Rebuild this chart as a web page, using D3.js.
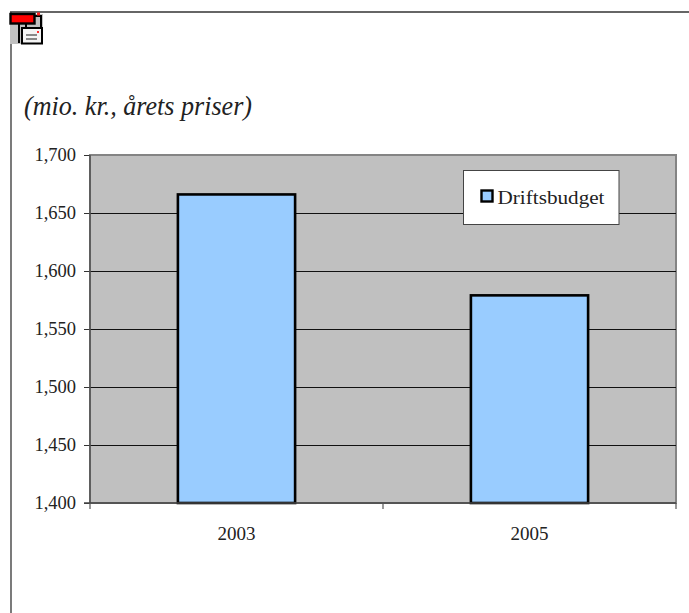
<!DOCTYPE html>
<html>
<head>
<meta charset="utf-8">
<script src="https://cdn.jsdelivr.net/npm/d3@7"></script>
<style>
  html, body { margin: 0; padding: 0; background: #fff; }
  svg { display: block; }
  text { font-family: "Liberation Serif", serif; fill: #222; }
</style>
</head>
<body>
<div id="chart"></div>
<script>
const categories = ["2003", "2005"];
const driftsbudget = [1666, 1579];
const yTickValues = [1400, 1450, 1500, 1550, 1600, 1650, 1700];
const seriesName = "Driftsbudget";
const subtitle = "(mio. kr., årets priser)";

const totalWidth = 689, totalHeight = 613;
const margin = {top: 155, right: 13, bottom: 110, left: 90};
const width = totalWidth - margin.left - margin.right;
const height = totalHeight - margin.top - margin.bottom;

const svg = d3.select("#chart").append("svg")
    .attr("width", totalWidth)
    .attr("height", totalHeight);

// page frame around the embedded chart
svg.append("line").attr("x1", 10).attr("x2", totalWidth).attr("y1", 12).attr("y2", 12)
    .attr("stroke", "#333").attr("stroke-width", 1.3);
svg.append("line").attr("x1", 11).attr("x2", 11).attr("y1", 12).attr("y2", totalHeight)
    .attr("stroke", "#333").attr("stroke-width", 1.3);

drawIcon(svg.append("g").attr("transform", "translate(10,12)"));

svg.append("text")
    .attr("x", 24)
    .attr("y", 115)
    .attr("font-size", 27)
    .attr("font-style", "italic")
    .attr("textLength", 228)
    .attr("lengthAdjust", "spacingAndGlyphs")
    .text(subtitle);

const xScale = d3.scaleBand().domain(categories).range([0, width]).paddingInner(0.6).paddingOuter(0.3);
const yScale = d3.scaleLinear().domain([1400, 1700]).range([height, 0]);

const g = svg.append("g").attr("transform", "translate(" + margin.left + "," + margin.top + ")");

g.append("rect")
    .attr("width", width)
    .attr("height", height)
    .attr("fill", "#c0c0c0")
    .attr("stroke", "#848484")
    .attr("stroke-width", 2);

g.selectAll(".grid")
    .data(yTickValues.filter(d => d > 1400 && d < 1700))
    .enter().append("line")
    .attr("class", "grid")
    .attr("x1", 0)
    .attr("x2", width)
    .attr("y1", d => Math.round(yScale(d)) + 0.5)
    .attr("y2", d => Math.round(yScale(d)) + 0.5)
    .attr("stroke", "#111")
    .attr("stroke-width", 1);

g.selectAll(".bar")
    .data(driftsbudget)
    .enter().append("rect")
    .attr("class", "bar")
    .attr("x", (d, i) => xScale(categories[i]))
    .attr("y", d => yScale(d))
    .attr("width", xScale.bandwidth())
    .attr("height", d => height - yScale(d))
    .attr("fill", "#99ccff")
    .attr("stroke", "#000")
    .attr("stroke-width", 2.6);

const yAxis = d3.axisLeft(yScale).tickValues(yTickValues).tickFormat(d3.format(",")).tickSize(6).tickPadding(8);
const axisY = g.append("g").call(yAxis);
axisY.select(".domain").remove();
axisY.append("line").attr("x1", 0).attr("x2", 0).attr("y1", 0).attr("y2", height)
    .attr("stroke", "#555").attr("stroke-width", 1.6);
axisY.selectAll(".tick line").attr("stroke", "#333");
axisY.selectAll("text").attr("font-size", 18.5).attr("x", -14).style("font-family", '"Liberation Serif", serif').attr("fill", "#222");

const xAxis = d3.axisBottom(xScale).tickSize(0).tickPadding(24);
const axisX = g.append("g").attr("transform", "translate(0," + height + ")").call(xAxis);
axisX.select(".domain").remove();
axisX.selectAll("text").attr("font-size", 19).style("font-family", '"Liberation Serif", serif').attr("fill", "#222");
axisX.append("line").attr("x1", -6).attr("x2", width).attr("y1", 0).attr("y2", 0)
    .attr("stroke", "#444").attr("stroke-width", 1.6);
// ticks between the categories
axisX.selectAll(".sep")
    .data([0, width / 2, width])
    .enter().append("line")
    .attr("class", "sep")
    .attr("x1", d => d).attr("x2", d => d)
    .attr("y1", 0).attr("y2", 6)
    .attr("stroke", "#555").attr("stroke-width", 1.2);

// legend
const legend = svg.append("g").attr("transform", "translate(463.5,170.5)");
legend.append("rect")
    .attr("width", 155.5)
    .attr("height", 54)
    .attr("fill", "#fff")
    .attr("stroke", "#444")
    .attr("stroke-width", 1);
legend.append("rect")
    .attr("x", 18)
    .attr("y", 20)
    .attr("width", 11)
    .attr("height", 11)
    .attr("fill", "#99ccff")
    .attr("stroke", "#000")
    .attr("stroke-width", 2.4);
legend.append("text")
    .attr("x", 34)
    .attr("y", 33)
    .attr("font-size", 19)
    .attr("textLength", 107)
    .attr("lengthAdjust", "spacingAndGlyphs")
    .text(seriesName);

function drawIcon(icon) {
    icon.append("rect").attr("y", 2).attr("width", 33).attr("height", 30).attr("fill", "#c0c0c0");
    // back window
    icon.append("rect").attr("x", 16).attr("y", 4).attr("width", 15).attr("height", 16)
        .attr("fill", "#c0c0c0").attr("stroke", "#000").attr("stroke-width", 2);
    icon.append("rect").attr("x", 8).attr("y", 11).attr("width", 2).attr("height", 20).attr("fill", "#000");
    // red title bar
    icon.append("rect").attr("x", 0.5).attr("y", 2).attr("width", 24).attr("height", 9.5)
        .attr("fill", "#ff0000").attr("stroke", "#000").attr("stroke-width", 2.4);
    icon.append("rect").attr("x", 27).attr("y", 0.5).attr("width", 3).attr("height", 3).attr("fill", "#ff2020");
    // front document
    icon.append("rect").attr("x", 12).attr("y", 16).attr("width", 20).attr("height", 15.5)
        .attr("fill", "#f4f4f4").attr("stroke", "#000").attr("stroke-width", 2);
    icon.append("rect").attr("x", 16).attr("y", 22).attr("width", 11).attr("height", 2).attr("fill", "#888");
    icon.append("rect").attr("x", 16).attr("y", 26).attr("width", 11).attr("height", 2).attr("fill", "#888");
    icon.append("rect").attr("x", 27).attr("y", 19).attr("width", 2).attr("height", 2).attr("fill", "#ff3030");
}
</script>
</body>
</html>
